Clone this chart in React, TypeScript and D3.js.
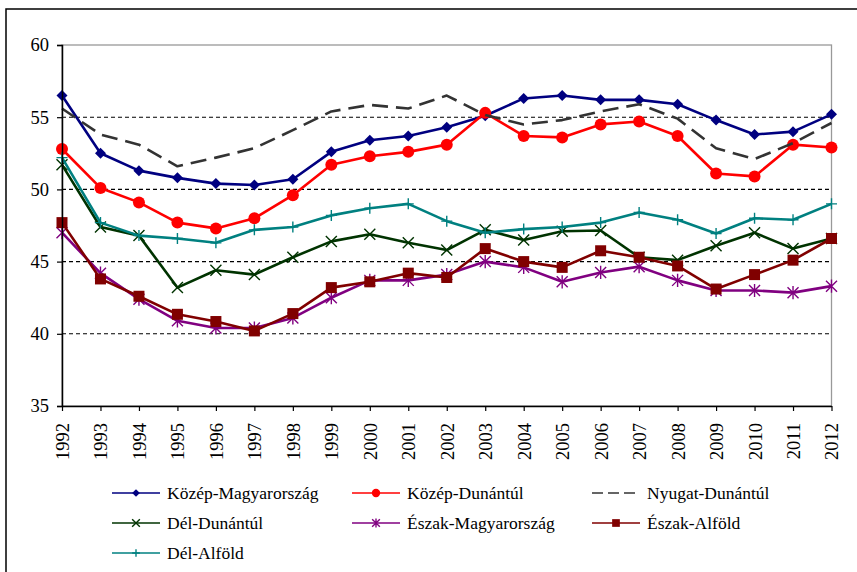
import React, { useRef, useEffect } from "react";
import * as d3 from "d3";

const years = [
  "1992", "1993", "1994", "1995", "1996", "1997", "1998", "1999", "2000", "2001", "2002",
  "2003", "2004", "2005", "2006", "2007", "2008", "2009", "2010", "2011", "2012",
];
const yTicks = [35, 40, 45, 50, 55, 60];

const kozepMagyarorszag = [56.5, 52.5, 51.3, 50.8, 50.4, 50.3, 50.7, 52.6, 53.4, 53.7, 54.3, 55.1, 56.3, 56.5, 56.2, 56.2, 55.9, 54.8, 53.8, 54.0, 55.2];
const kozepDunantul = [52.8, 50.1, 49.1, 47.7, 47.3, 48.0, 49.6, 51.7, 52.3, 52.6, 53.1, 55.3, 53.7, 53.6, 54.5, 54.7, 53.7, 51.1, 50.9, 53.1, 52.9];
const nyugatDunantul = [55.6, 53.8, 53.1, 51.6, 52.2, 52.85, 54.1, 55.4, 55.85, 55.6, 56.5, 55.15, 54.5, 54.8, 55.4, 55.9, 54.9, 52.85, 52.1, 53.2, 54.6];
const delDunantul = [51.7, 47.4, 46.8, 43.2, 44.4, 44.1, 45.3, 46.4, 46.9, 46.3, 45.8, 47.2, 46.5, 47.1, 47.15, 45.3, 45.1, 46.1, 47.0, 45.9, 46.6];
const eszakMagyarorszag = [47.0, 44.2, 42.4, 40.9, 40.4, 40.4, 41.1, 42.5, 43.7, 43.7, 44.1, 45.0, 44.6, 43.6, 44.25, 44.65, 43.7, 43.0, 43.0, 42.85, 43.3];
const eszakAlfold = [47.7, 43.8, 42.6, 41.35, 40.85, 40.2, 41.4, 43.2, 43.6, 44.2, 43.9, 45.9, 45.0, 44.6, 45.75, 45.3, 44.7, 43.1, 44.1, 45.1, 46.6];
const delAlfold = [52.2, 47.7, 46.8, 46.6, 46.3, 47.2, 47.4, 48.2, 48.7, 49.0, 47.8, 47.0, 47.25, 47.4, 47.7, 48.4, 47.9, 46.95, 48.0, 47.9, 49.0];

type Marker = "diamond" | "circle" | "none" | "x" | "asterisk" | "square" | "plus";

const series: { name: string; values: number[]; color: string; marker: Marker; dash?: string }[] = [
  { name: "Közép-Magyarország", values: kozepMagyarorszag, color: "#000080", marker: "diamond" },
  { name: "Közép-Dunántúl", values: kozepDunantul, color: "#ff0000", marker: "circle" },
  { name: "Nyugat-Dunántúl", values: nyugatDunantul, color: "#333333", marker: "none", dash: "16,8" },
  { name: "Dél-Dunántúl", values: delDunantul, color: "#003300", marker: "x" },
  { name: "Észak-Magyarország", values: eszakMagyarorszag, color: "#800080", marker: "asterisk" },
  { name: "Észak-Alföld", values: eszakAlfold, color: "#800000", marker: "square" },
  { name: "Dél-Alföld", values: delAlfold, color: "#008080", marker: "plus" },
];

const W = 857;
const H = 572;
const left = 62;
const right = 831.5;
const top = 45;
const bottom = 406;
const font = "'Liberation Serif', 'DejaVu Serif', serif";

function MarkerShape({ kind, color, k = 1 }: { kind: Marker; color: string; k?: number }) {
  if (kind === "none") return null;
  if (kind === "circle") return <circle r={6 * k} fill={color} />;
  if (kind === "square") {
    const s = 5.5 * k;
    return <rect x={-s} y={-s} width={2 * s} height={2 * s} fill={color} />;
  }
  if (kind === "diamond") {
    const h = 5.5 * k;
    return <path d={`M0,${-h}L${h},0L0,${h}L${-h},0Z`} fill={color} />;
  }
  const h = 5.5 * k;
  let d = "";
  if (kind === "x" || kind === "asterisk") d += `M${-h},${-h}L${h},${h}M${-h},${h}L${h},${-h}`;
  if (kind === "asterisk") d += `M0,${-h * 1.2}L0,${h * 1.2}`;
  if (kind === "plus") d = `M${-h},0H${h}M0,${-h}V${h}`;
  return <path d={d} fill="none" stroke={color} strokeWidth={1.4} />;
}

export default function App() {
  const xAxisRef = useRef<SVGGElement>(null);
  const yAxisRef = useRef<SVGGElement>(null);

  const x = d3.scalePoint<string>().domain(years).range([left, right]);
  const y = d3.scaleLinear().domain([35, 60]).range([bottom, top]);

  const line = d3
    .line<number>()
    .x((_, i) => x(years[i]) as number)
    .y((d) => y(d));

  useEffect(() => {
    const ya = d3.select(yAxisRef.current);
    ya.call(d3.axisLeft(y).tickValues(yTicks).tickSize(5).tickPadding(8).tickFormat(d3.format("d")));
    ya.attr("font-family", font).attr("font-size", 18.5);
    ya.select(".domain").attr("stroke", "#000").attr("stroke-width", 1.5);
    ya.selectAll(".tick line").attr("stroke", "#000").attr("stroke-width", 1.2);
    ya.selectAll(".tick text").attr("fill", "#000");

    const xa = d3.select(xAxisRef.current);
    xa.call(d3.axisBottom(x).tickSize(5).tickSizeOuter(0));
    xa.attr("font-family", font).attr("font-size", 18.5);
    xa.select(".domain").attr("stroke", "#000").attr("stroke-width", 1.5);
    xa.selectAll(".tick line").attr("stroke", "#000").attr("stroke-width", 1.2);
    xa.selectAll(".tick text")
      .attr("fill", "#000")
      .attr("text-anchor", "end")
      .attr("transform", "translate(0,17) rotate(-90)")
      .attr("x", 0)
      .attr("y", 0)
      .attr("dy", "0.35em");
  }, []);

  const legendCols = [112, 352, 592];
  const legendRows = [493, 523, 553];

  return (
    <svg width={W} height={H} fontFamily={font} style={{ position: "absolute", left: 0, top: 0, background: "#fff" }}>
      <rect x={6} y={9} width={W + 10} height={H + 10} fill="#fff" stroke="#000" strokeWidth={1.5} />
      <rect x={left} y={top} width={right - left} height={bottom - top} fill="none" stroke="#999" strokeWidth={1.3} />
      {yTicks
        .filter((t) => t > 35)
        .map((t) => (
          <line
            key={t}
            x1={left}
            x2={right}
            y1={y(t)}
            y2={y(t)}
            stroke={t === 60 ? "#bbb" : "#000"}
            strokeWidth={1.1}
            strokeDasharray="4,3"
          />
        ))}
      {series.map((s) => (
        <g key={s.name}>
          <path
            d={line(s.values) || ""}
            fill="none"
            stroke={s.color}
            strokeWidth={2.6}
            strokeDasharray={s.dash}
            strokeLinejoin="round"
          />
          {s.values.map((v, i) => (
            <g key={i} transform={`translate(${x(years[i])},${y(v)})`}>
              <MarkerShape kind={s.marker} color={s.color} />
            </g>
          ))}
        </g>
      ))}
      <g ref={yAxisRef} transform={`translate(${left},0)`} />
      <g ref={xAxisRef} transform={`translate(0,${bottom})`} />
      {series.map((s, i) => {
        const lx = legendCols[i % 3];
        const ly = legendRows[Math.floor(i / 3)];
        return (
          <g key={s.name} transform={`translate(${lx},${ly})`}>
            <line x1={0} x2={48} y1={0} y2={0} stroke={s.color} strokeWidth={1.6} strokeDasharray={s.dash ? "11,5" : undefined} />
            <g transform="translate(24,0)">
              <MarkerShape kind={s.marker} color={s.color} k={0.7} />
            </g>
            <text x={55} y={0} dy="0.35em" fontFamily={font} fontSize={17.5} fill="#000">
              {s.name}
            </text>
          </g>
        );
      })}
    </svg>
  );
}
